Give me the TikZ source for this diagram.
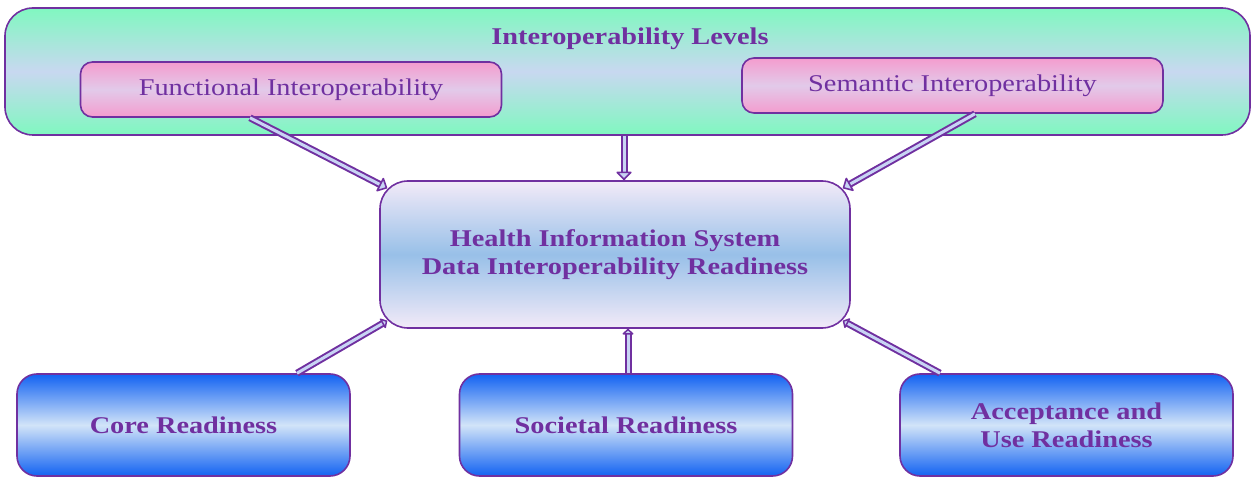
\documentclass[tikz,border=0pt]{standalone}
\usepackage{fontspec}
\setmainfont[FakeStretch=1.18]{Liberation Serif}
\usetikzlibrary{arrows.meta,calc}
\definecolor{ink}{HTML}{7030A0}
\definecolor{mint}{HTML}{80F8C0}
\definecolor{mist}{HTML}{C8D8F0}
\definecolor{rose}{HTML}{F49CCE}
\definecolor{lilac}{HTML}{E2CAEA}
\definecolor{pale}{HTML}{F2EAF8}
\definecolor{sky}{HTML}{98C0E8}
\definecolor{royal}{HTML}{1262F2}
\definecolor{ice}{HTML}{D2E4F8}
\definecolor{shaft}{HTML}{C8D4F4}
\begin{document}
\begin{tikzpicture}[x=1pt,y=-1pt,
  frame/.style={draw=ink, line width=1.6pt, rectangle, inner sep=0pt, text=ink, align=center},
  levels/.style={frame, minimum width=1245pt, minimum height=127pt, rounded corners=28pt,
    top color=mint, bottom color=mint, middle color=mist},
  pinkbox/.style={frame, minimum width=421pt, minimum height=55pt, rounded corners=12pt,
    top color=rose, bottom color=rose, middle color=lilac, font=\fontsize{24}{28}\selectfont},
  hubbox/.style={frame, minimum width=470pt, minimum height=147pt, rounded corners=28pt,
    top color=pale, bottom color=pale, middle color=sky, font=\fontsize{24}{28}\selectfont\bfseries},
  bluebox/.style={frame, minimum width=333pt, minimum height=102pt, rounded corners=20pt,
    top color=royal, bottom color=royal, middle color=ice, font=\fontsize{24}{28}\selectfont\bfseries},
  heading/.style={text=ink, font=\fontsize{24}{28}\selectfont\bfseries, inner sep=0pt},
  arr/.style={draw=ink, line width=2pt, double=shaft, double distance=3pt,
    -{Triangle[width=17pt, length=9pt, fill=shaft, line width=1.6pt, round]}},
  arrup/.style={arr, -{Triangle[width=13pt, length=6pt, fill=shaft, line width=1.6pt, round]}}
]
\useasboundingbox (0,0) rectangle (1253,478);

% interoperability levels band
\node[levels] (lvl) at (627.5,71.5) {};
\node[heading, anchor=base] (ttl) at (630,45) {Interoperability Levels};
\node[pinkbox] (func) at (291,89.5) {Functional Interoperability};
\node[pinkbox] (sem) at (952.5,85.5) {Semantic Interoperability};

% central readiness box
\node[hubbox] (hub) at (615,254.5) {Health Information System\\Data Interoperability Readiness};

% readiness dimensions
\node[bluebox] (core) at (183.5,425) {Core Readiness};
\node[bluebox] (soc) at (626,425) {Societal Readiness};
\node[bluebox] (acc) at (1066.5,425) {Acceptance and\\Use Readiness};

% connectors
\draw[arr] ([shift={(-41,0)}]func.south) -- ([shift={(8,8)}]hub.north west);
\draw[arr] ([shift={(-3.5,0)}]lvl.south) -- ([shift={(9,0)}]hub.north);
\draw[arr] ([shift={(22.5,0)}]sem.south) -- ([shift={(-8,8)}]hub.north east);
\draw[arrup] ([shift={(113.5,0)}]core.north) -- ([shift={(8,-8)}]hub.south west);
\draw[arrup] ([shift={(2,0)}]soc.north) -- ([shift={(13,0)}]hub.south);
\draw[arrup] ([shift={(-126.5,0)}]acc.north) -- ([shift={(-8,-8)}]hub.south east);
\end{tikzpicture}
\end{document}
